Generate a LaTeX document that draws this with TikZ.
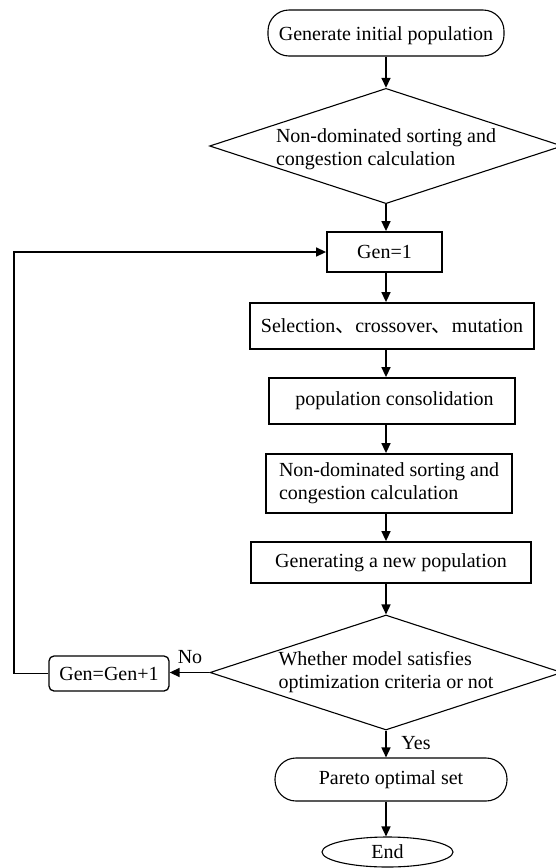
\documentclass[tikz,border=0pt]{standalone}
\usepackage{fontspec}
\setmainfont{Liberation Serif}
\newfontfamily\cjk{Noto Sans CJK SC}
\usetikzlibrary{shapes.geometric,arrows.meta}

\tikzset{
    every node/.style={font=\fontsize{20}{23}\selectfont, inner sep=0pt},
    process/.style={draw, line width=1.8pt, rectangle},
    terminal/.style={draw, line width=1.1pt, rectangle, rounded corners=21pt},
    decision/.style={draw, line width=1.1pt, diamond, shape aspect=3.06, inner xsep=-6pt,
        minimum width=352pt, minimum height=115pt, align=left},
    counter/.style={draw, line width=1.3pt, rectangle, rounded corners=5pt},
    arr/.style={line width=1.5pt, -{Triangle[length=10pt,width=9pt]}},
}

\begin{document}
\begin{tikzpicture}[x=1pt, y=-1pt]
    \useasboundingbox (0,0) rectangle (555,868);
    \coordinate (axis) at (386,0);
    \coordinate (back) at (14,0);

    % Start and first sorting
    \node[terminal, minimum width=236pt, minimum height=46pt, text height=20pt] (start) at (386,33) {Generate initial population};
    \node[decision] (sort1) at (386,146) {\rule{0pt}{20pt}Non-dominated sorting and\\congestion calculation};

    % Main loop body
    \node[process, minimum width=115pt, minimum height=40pt] (gen) at (384.5,252) {Gen=1};
    \node[process, minimum width=284pt, minimum height=46pt] (sel) at (392,326) {Selection{\cjk 、}crossover{\cjk 、}mutation};
    \node[process, minimum width=246pt, minimum height=46pt] (merge) at (392,401) {\ population consolidation};
    \node[process, minimum width=246pt, minimum height=59pt, align=left] (sort2) at (389,483.5) {Non-dominated sorting and\\congestion calculation};
    \node[process, minimum width=280pt, minimum height=41pt] (newpop) at (391,562.5) {Generating a new population};

    % Check and exit
    \node[decision] (check) at (386,672.5) {Whether model satisfies\\optimization criteria or not};
    \node[counter, minimum width=120pt, minimum height=35pt] (incr) at (109,673.5) {Gen=Gen+1};
    \node[terminal, minimum width=232pt, minimum height=43pt] (pareto) at (391,779.5) {Pareto optimal set};
    \node[draw, line width=1.1pt, ellipse, minimum width=131pt, minimum height=30pt] (finish) at (387.5,852) {End};

    % Labels
    \node (no) at (190,657) {No};
    \node (yes) at (416,743) {Yes};

    % Connectors
    \draw[arr] (start.south -| axis) -- (sort1.north);
    \draw[arr] (sort1.south) -- (gen.north -| axis);
    \draw[arr] (gen.south -| axis) -- (sel.north -| axis);
    \draw[arr] (sel.south -| axis) -- (merge.north -| axis);
    \draw[arr] (merge.south -| axis) -- (sort2.north -| axis);
    \draw[arr] (sort2.south -| axis) -- (newpop.north -| axis);
    \draw[arr] (newpop.south -| axis) -- (check.north);
    \draw[arr] (check.west) -- (check.west -| incr.east);
    \draw[arr] (incr.west) -- (incr.west -| back) |- (gen.west);
    \draw[arr] (check.south) -- (pareto.north -| axis);
    \draw[arr] (pareto.south -| axis) -- (finish.north -| axis);
\end{tikzpicture}
\end{document}
